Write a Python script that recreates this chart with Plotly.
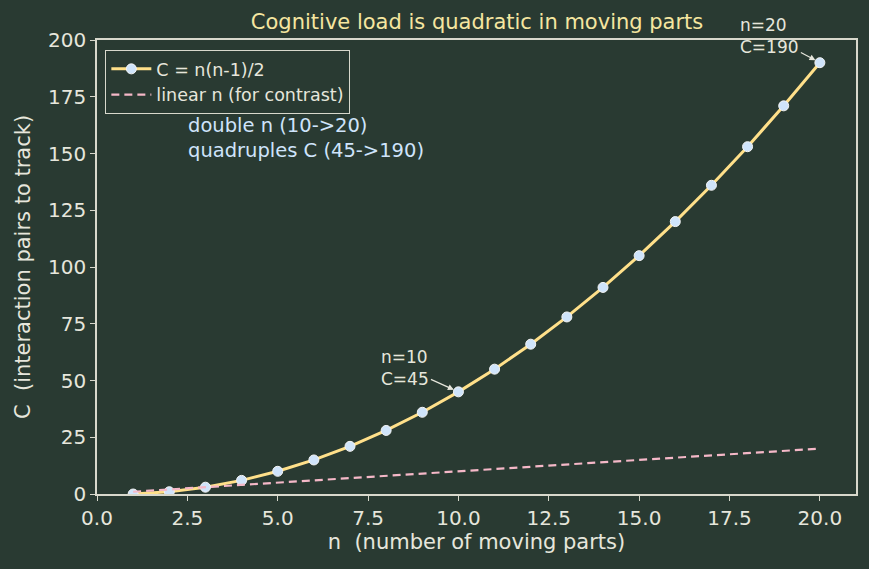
import plotly.graph_objects as go

n_vals = list(range(1, 21))
c_vals = [0, 1, 3, 6, 10, 15, 21, 28, 36, 45, 55, 66, 78, 91, 105, 120, 136, 153, 171, 190]
linear_vals = list(range(1, 21))
x_ticks = [0, 2.5, 5, 7.5, 10, 12.5, 15, 17.5, 20]
y_ticks = [0, 25, 50, 75, 100, 125, 150, 175, 200]

BG = "#293a32"
FG = "#e6e6dc"
SPINE = "#d8d8cc"
FONT = "DejaVu Sans"

fig = go.Figure()
fig.add_trace(go.Scatter(
    x=n_vals, y=c_vals, mode="lines+markers", name="C = n(n-1)/2",
    line=dict(color="#ffe08a", width=3),
    marker=dict(size=10, color="#cfe4fb", line=dict(color="#f4f4f4", width=1)),
))
fig.add_trace(go.Scatter(
    x=n_vals, y=linear_vals, mode="lines", name="linear n (for contrast)",
    line=dict(color="#f5b8c8", width=2.2, dash="8px,5px"),
))

axis_common = dict(
    showgrid=False, zeroline=False, showline=True, mirror=True,
    linecolor=SPINE, linewidth=1.5, ticks="outside", ticklen=5,
    tickcolor=SPINE, tickwidth=1.2,
    tickfont=dict(family=FONT, size=20, color=FG),
)
fig.update_xaxes(range=[0, 21], tickvals=x_ticks,
                 ticktext=[f"{v:.1f}" for v in x_ticks],
                 title=dict(text="n  (number of moving parts)",
                            font=dict(family=FONT, size=21, color=FG), standoff=6),
                 **axis_common)
fig.update_yaxes(range=[0, 200], tickvals=y_ticks,
                 title=dict(text="C  (interaction pairs to track)",
                            font=dict(family=FONT, size=21, color=FG), standoff=12),
                 **axis_common)

fig.add_annotation(x=10, y=45, xref="x", yref="y", text="n=10<br>C=45",
                   showarrow=True, ax=-53, ay=-24, arrowhead=2, arrowsize=1,
                   arrowwidth=1.2, arrowcolor="#e6e6dc", align="left",
                   font=dict(family=FONT, size=17, color=FG), standoff=5)
fig.add_annotation(x=20, y=190, xref="x", yref="y", text="n=20<br>C=190",
                   showarrow=True, ax=-50, ay=-27, arrowhead=2, arrowsize=1,
                   arrowwidth=1.2, arrowcolor="#e6e6dc", align="left",
                   font=dict(family=FONT, size=17, color=FG), standoff=5)
fig.add_annotation(x=2.45, y=157, xref="x", yref="y", xanchor="left", yanchor="middle",
                   text="double n (10->20)<br>quadruples C (45->190)", showarrow=False,
                   align="left", font=dict(family=FONT, size=19.5, color="#cfe4fb"))

fig.update_layout(
    width=869, height=569,
    paper_bgcolor=BG, plot_bgcolor=BG,
    margin=dict(l=97, r=13, t=40, b=75),
    title=dict(text="Cognitive load is quadratic in moving parts", x=0.549, xanchor="center",
               y=0.962, yanchor="middle",
               font=dict(family=FONT, size=21, color="#f5e6a0")),
    legend=dict(x=0.011, y=0.978, xanchor="left", yanchor="top",
                bgcolor=BG, bordercolor=SPINE, borderwidth=1,
                font=dict(family=FONT, size=17.5, color=FG),
                itemwidth=40, tracegroupgap=0),
    showlegend=True,
)

fig.write_html("out.html")
